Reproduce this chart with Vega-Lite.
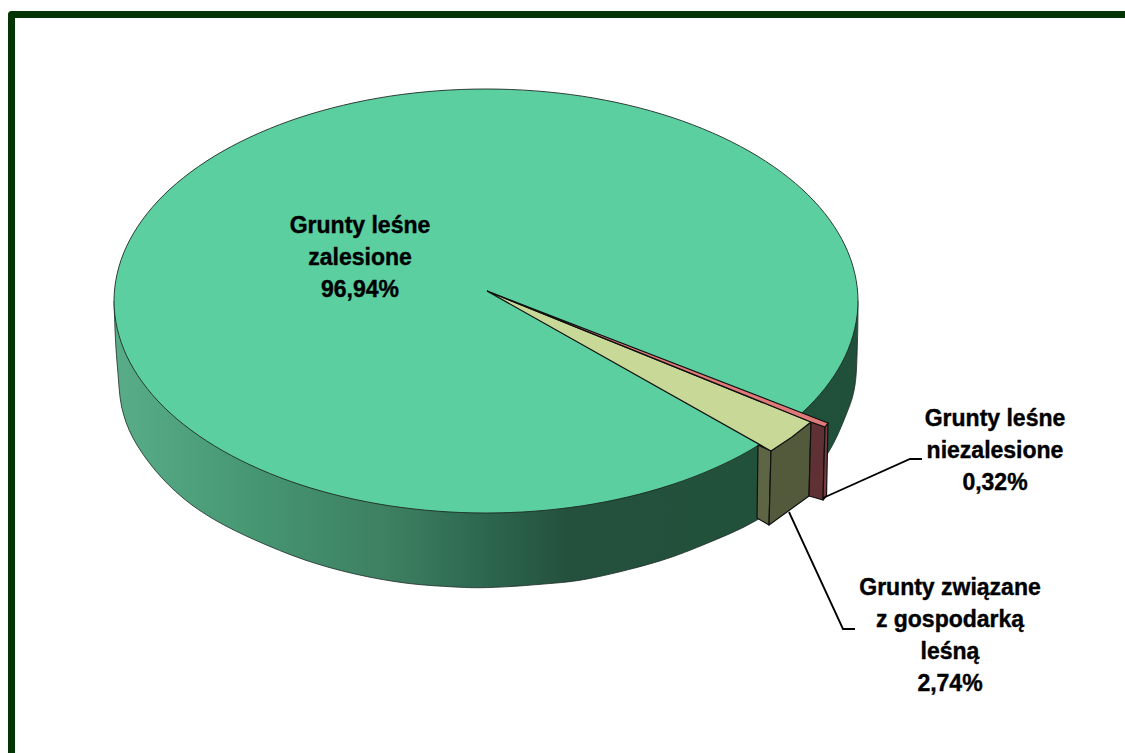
{
  "$schema": "https://vega.github.io/schema/vega-lite/v6.json",
  "width": 1125,
  "height": 753,
  "padding": 0,
  "autosize": {"type": "none"},
  "background": "white",
  "view": {"stroke": null},
  "datasets": {
    "frame": [
      {"seq": 1, "x": 11.5, "y": 753},
      {"seq": 2, "x": 11.5, "y": 14.5},
      {"seq": 3, "x": 1125, "y": 14.5}
    ],
    "wall": [
      {"seq": 1, "x": 114, "y": 301},
      {"seq": 2, "x": 115.5, "y": 340},
      {"seq": 3, "x": 117.7, "y": 370},
      {"seq": 4, "x": 121.7, "y": 407},
      {"seq": 5, "x": 133, "y": 438},
      {"seq": 6, "x": 155, "y": 470},
      {"seq": 7, "x": 183, "y": 498},
      {"seq": 8, "x": 215, "y": 520},
      {"seq": 9, "x": 255, "y": 540},
      {"seq": 10, "x": 305, "y": 560},
      {"seq": 11, "x": 355, "y": 574},
      {"seq": 12, "x": 405, "y": 583},
      {"seq": 13, "x": 455, "y": 587},
      {"seq": 14, "x": 490, "y": 587.5},
      {"seq": 15, "x": 538, "y": 584.5},
      {"seq": 16, "x": 587, "y": 579},
      {"seq": 17, "x": 653, "y": 563},
      {"seq": 18, "x": 703, "y": 545},
      {"seq": 19, "x": 757, "y": 520},
      {"seq": 20, "x": 800, "y": 487},
      {"seq": 21, "x": 828, "y": 453},
      {"seq": 22, "x": 846, "y": 415},
      {"seq": 23, "x": 855, "y": 385},
      {"seq": 24, "x": 857.5, "y": 340},
      {"seq": 25, "x": 858, "y": 301}
    ],
    "top": [
      {"seq": 1, "x": 858, "y": 301},
      {"seq": 2, "x": 845.3, "y": 246.1},
      {"seq": 3, "x": 808.2, "y": 195},
      {"seq": 4, "x": 749, "y": 151.1},
      {"seq": 5, "x": 672, "y": 117.4},
      {"seq": 6, "x": 582.3, "y": 96.2},
      {"seq": 7, "x": 486, "y": 89},
      {"seq": 8, "x": 389.7, "y": 96.2},
      {"seq": 9, "x": 300, "y": 117.4},
      {"seq": 10, "x": 223, "y": 151.1},
      {"seq": 11, "x": 163.8, "y": 195},
      {"seq": 12, "x": 126.7, "y": 246.1},
      {"seq": 13, "x": 114, "y": 301},
      {"seq": 14, "x": 126.7, "y": 355.9},
      {"seq": 15, "x": 163.8, "y": 407},
      {"seq": 16, "x": 223, "y": 450.9},
      {"seq": 17, "x": 300, "y": 484.6},
      {"seq": 18, "x": 389.7, "y": 505.8},
      {"seq": 19, "x": 486, "y": 513},
      {"seq": 20, "x": 582.3, "y": 505.8},
      {"seq": 21, "x": 672, "y": 484.6},
      {"seq": 22, "x": 749, "y": 450.9},
      {"seq": 23, "x": 808.2, "y": 407},
      {"seq": 24, "x": 845.3, "y": 355.9}
    ],
    "facets": [
      {"part": "zwiazane-bok", "seq": 1, "x": 771, "y": 451},
      {"part": "zwiazane-bok", "seq": 2, "x": 758, "y": 445},
      {"part": "zwiazane-bok", "seq": 3, "x": 757, "y": 518},
      {"part": "zwiazane-bok", "seq": 4, "x": 769, "y": 525},
      {"part": "zwiazane-bok", "seq": 5, "x": 771, "y": 451},
      {"part": "zwiazane-front", "seq": 1, "x": 771, "y": 451},
      {"part": "zwiazane-front", "seq": 2, "x": 811, "y": 422},
      {"part": "zwiazane-front", "seq": 3, "x": 809, "y": 496},
      {"part": "zwiazane-front", "seq": 4, "x": 769, "y": 525},
      {"part": "zwiazane-front", "seq": 5, "x": 771, "y": 451},
      {"part": "niezalesione-front", "seq": 1, "x": 811, "y": 422},
      {"part": "niezalesione-front", "seq": 2, "x": 825, "y": 427},
      {"part": "niezalesione-front", "seq": 3, "x": 823, "y": 500},
      {"part": "niezalesione-front", "seq": 4, "x": 809, "y": 496},
      {"part": "niezalesione-front", "seq": 5, "x": 811, "y": 422},
      {"part": "niezalesione-bok", "seq": 1, "x": 825, "y": 427},
      {"part": "niezalesione-bok", "seq": 2, "x": 828, "y": 423},
      {"part": "niezalesione-bok", "seq": 3, "x": 826.5, "y": 496},
      {"part": "niezalesione-bok", "seq": 4, "x": 823, "y": 500},
      {"part": "niezalesione-bok", "seq": 5, "x": 825, "y": 427},
      {"part": "zwiazane-wierzch", "seq": 1, "x": 487, "y": 291},
      {"part": "zwiazane-wierzch", "seq": 2, "x": 811, "y": 422},
      {"part": "zwiazane-wierzch", "seq": 3, "x": 792, "y": 437},
      {"part": "zwiazane-wierzch", "seq": 4, "x": 771, "y": 451},
      {"part": "zwiazane-wierzch", "seq": 5, "x": 487, "y": 291},
      {"part": "niezalesione-wierzch", "seq": 1, "x": 487, "y": 291},
      {"part": "niezalesione-wierzch", "seq": 2, "x": 828, "y": 423},
      {"part": "niezalesione-wierzch", "seq": 3, "x": 825, "y": 427},
      {"part": "niezalesione-wierzch", "seq": 4, "x": 811, "y": 422},
      {"part": "niezalesione-wierzch", "seq": 5, "x": 487, "y": 291}
    ],
    "leaders": [
      {"slice": "niezalesione", "seq": 1, "x": 823, "y": 498},
      {"slice": "niezalesione", "seq": 2, "x": 910, "y": 459},
      {"slice": "niezalesione", "seq": 3, "x": 922, "y": 459},
      {"slice": "zwiazane", "seq": 1, "x": 789, "y": 512},
      {"slice": "zwiazane", "seq": 2, "x": 843, "y": 629},
      {"slice": "zwiazane", "seq": 3, "x": 855, "y": 629}
    ],
    "labels": [
      {"share": 96.94, "label": "Grunty leśne\nzalesione\n96,94%", "x": 360, "y": 226},
      {"share": 0.32, "label": "Grunty leśne\nniezalesione\n0,32%", "x": 995, "y": 419},
      {"share": 2.74, "label": "Grunty związane\nz gospodarką\nleśną\n2,74%", "x": 950, "y": 588}
    ]
  },
  "encoding": {
    "x": {"field": "x", "type": "quantitative", "scale": {"domain": [0, 1125]}, "axis": null},
    "y": {"field": "y", "type": "quantitative", "scale": {"domain": [753, 0]}, "axis": null}
  },
  "layer": [
    {
      "data": {"name": "frame"},
      "mark": {"type": "line", "stroke": "#043504", "strokeWidth": 7, "strokeJoin": "round", "clip": false},
      "encoding": {"order": {"field": "seq"}}
    },
    {
      "data": {"name": "wall"},
      "mark": {
        "type": "line",
        "interpolate": "cardinal",
        "stroke": "#1d2b24",
        "strokeWidth": 0.8,
        "fill": {
          "gradient": "linear", "x1": 0, "y1": 0, "x2": 1, "y2": 0,
          "stops": [
            {"offset": 0, "color": "#58ad88"},
            {"offset": 0.19, "color": "#469672"},
            {"offset": 0.385, "color": "#3c7d60"},
            {"offset": 0.48, "color": "#2e6a52"},
            {"offset": 0.61, "color": "#24513d"},
            {"offset": 1, "color": "#20503a"}
          ]
        }
      },
      "encoding": {"order": {"field": "seq"}}
    },
    {
      "data": {"name": "top"},
      "mark": {"type": "line", "interpolate": "cardinal-closed", "stroke": "#1d2b24", "strokeWidth": 0.9, "fill": "#5ccfa0"},
      "encoding": {"order": {"field": "seq"}}
    },
    {
      "data": {"name": "facets"},
      "mark": {"type": "line", "stroke": "#101010", "strokeWidth": 1.2, "strokeJoin": "round"},
      "encoding": {
        "detail": {"field": "part"},
        "order": {"field": "seq"},
        "fill": {
          "field": "part",
          "legend": null,
          "scale": {
            "domain": ["zwiazane-bok", "zwiazane-front", "niezalesione-front", "niezalesione-bok", "zwiazane-wierzch", "niezalesione-wierzch"],
            "range": ["#5e6544", "#525a3b", "#5f3034", "#7b3b3e", "#c8d896", "#e07a78"]
          }
        }
      }
    },
    {
      "data": {"name": "leaders"},
      "mark": {"type": "line", "stroke": "#000000", "strokeWidth": 1.8},
      "encoding": {"detail": {"field": "slice"}, "order": {"field": "seq"}}
    },
    {
      "data": {"name": "labels"},
      "mark": {
        "type": "text",
        "font": "Liberation Sans",
        "fontWeight": "bold",
        "fontSize": 23,
        "fill": "#000000",
        "stroke": "#000000",
        "strokeWidth": 0.4,
        "align": "center",
        "baseline": "middle",
        "lineBreak": "\n",
        "lineHeight": 32
      },
      "encoding": {"text": {"field": "label"}}
    }
  ]
}
